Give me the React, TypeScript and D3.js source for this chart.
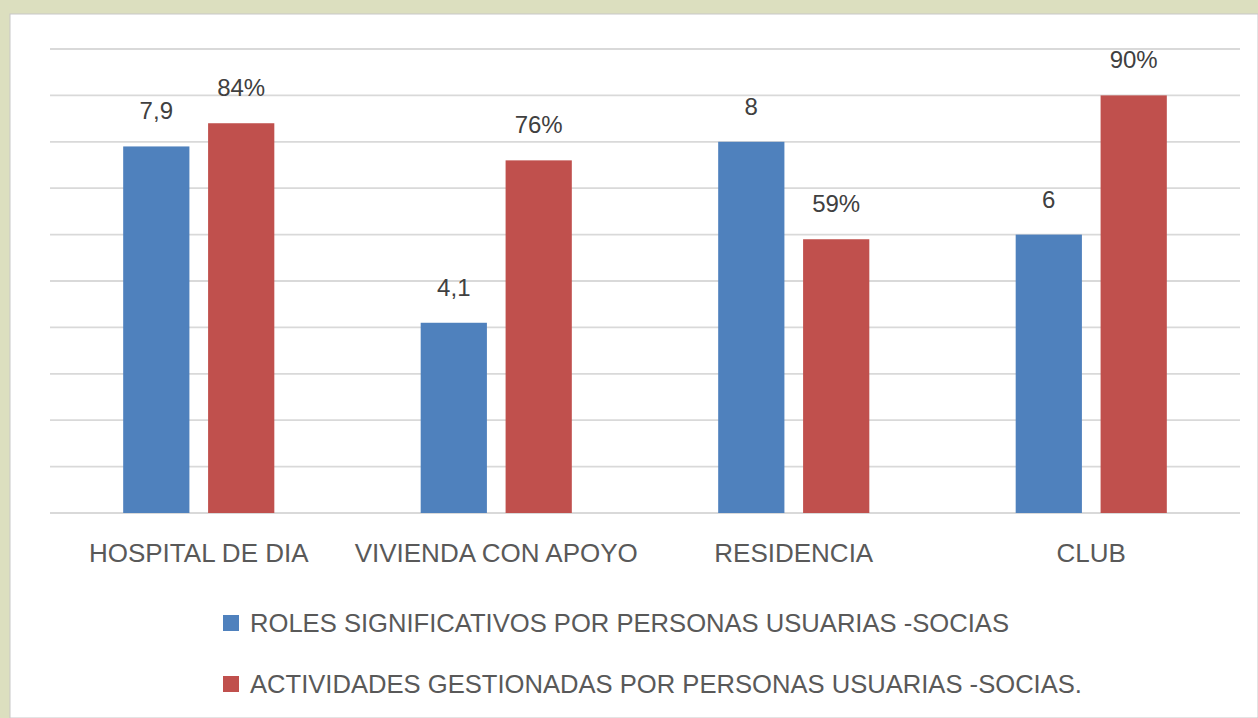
import React from "react";
import * as d3 from "d3";

const categories = ["HOSPITAL DE DIA", "VIVIENDA CON APOYO", "RESIDENCIA", "CLUB"];
const roles = [7.9, 4.1, 8, 6];
const actividades = [0.84, 0.76, 0.59, 0.9];
const seriesNames = [
  "ROLES SIGNIFICATIVOS POR PERSONAS USUARIAS -SOCIAS",
  "ACTIVIDADES GESTIONADAS POR PERSONAS USUARIAS -SOCIAS.",
];
const gridTicks = d3.range(0, 11);

const W = 1258;
const H = 718;
const BLUE = "#4f81bd";
const RED = "#c0504d";
const TEXT = "#595959";
const FONT = "'Liberation Sans', Arial, sans-serif";

const App = () => {
  const x0 = d3.scaleBand<string>().domain(categories).range([50, 1240]).paddingInner(0.492).paddingOuter(0.246);
  const x1 = d3.scaleBand<string>().domain(["roles", "act"]).range([0, x0.bandwidth()]).paddingInner(0.22);
  const y = d3.scaleLinear().domain([0, 10]).range([513, 49]);
  const yPct = d3.scaleLinear().domain([0, 1]).range([513, 49]);
  const fmtComma = (v: number) => String(v).replace(".", ",");
  const fmtPct = d3.format(".0%");

  return (
    <svg width={W} height={H} style={{ position: "absolute", left: 0, top: 0 }} fontFamily={FONT}>
      <rect width={W} height={H} fill="#dcdfbf" />
      <rect x={10} y={14} width={W - 10} height={H - 14} fill="#fff" stroke="#c8c8c8" strokeWidth={1} />

      {/* gridlines */}
      <g>
        {gridTicks.map((t) => (
          <line key={t} x1={50} x2={1240} y1={y(t)} y2={y(t)} stroke="#d9d9d9" strokeWidth={1.8} />
        ))}
      </g>

      {/* bars */}
      {categories.map((c, i) => {
        const gx = x0(c)!;
        const bx = gx + x1("roles")!;
        const rx = gx + x1("act")!;
        return (
          <g key={c}>
            <rect x={bx} y={y(roles[i])} width={x1.bandwidth()} height={y(0) - y(roles[i])} fill={BLUE} />
            <rect x={rx} y={yPct(actividades[i])} width={x1.bandwidth()} height={yPct(0) - yPct(actividades[i])} fill={RED} />
            <text x={bx + x1.bandwidth() / 2} y={y(roles[i]) - 27} textAnchor="middle" fontSize={24} fill="#404040">
              {fmtComma(roles[i])}
            </text>
            <text x={rx + x1.bandwidth() / 2} y={yPct(actividades[i]) - 27} textAnchor="middle" fontSize={24} fill="#404040">
              {fmtPct(actividades[i])}
            </text>
            <text x={gx + x0.bandwidth() / 2} y={562} textAnchor="middle" fontSize={26} fill={TEXT}>
              {c}
            </text>
          </g>
        );
      })}

      {/* legend */}
      {seriesNames.map((s, i) => (
        <g key={s} transform={`translate(223, ${615 + i * 61})`}>
          <rect x={0} y={0} width={16} height={16} fill={i === 0 ? BLUE : RED} />
          <text x={27} y={17} fontSize={25.6} fill={TEXT}>
            {s}
          </text>
        </g>
      ))}
    </svg>
  );
};

export default App;
